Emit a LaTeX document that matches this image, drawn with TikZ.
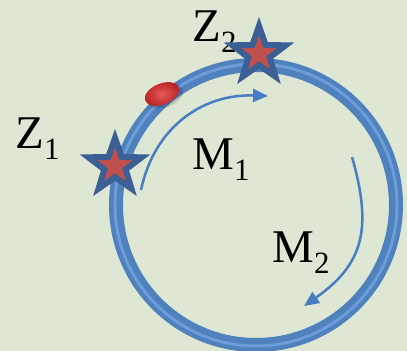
\documentclass[tikz,border=0pt]{standalone}
\usepackage{fontspec}
\setmainfont{Liberation Serif}
\definecolor{bggreen}{RGB}{221,231,211}
\definecolor{ringblue}{RGB}{79,129,189}
\definecolor{ringlight}{RGB}{108,156,218}
\definecolor{starblue}{RGB}{60,96,150}
\definecolor{starred}{RGB}{192,80,77}
\definecolor{arrowblue}{RGB}{72,125,195}
\definecolor{ovalin}{RGB}{232,90,90}
\definecolor{ovalout}{RGB}{185,32,36}
\usetikzlibrary{arrows.meta,positioning,shapes.geometric}
\newcommand{\sublbl}[2]{#1\raisebox{-5.8pt}{\fontsize{17.6}{18}\selectfont #2}}

\begin{document}
\begin{tikzpicture}[x=0.02cm,y=0.02cm]
  \tikzset{
    pointstar/.style={star,star points=5,star point ratio=2.5,minimum size=1.12cm,
      inner sep=0pt,fill=starred,draw=starblue,line width=0.12cm},
    bigtext/.style={anchor=base west,inner sep=0pt,font=\fontsize{26.7}{30}\selectfont},
    turnarrow/.style={arrowblue,line width=0.05cm,-{Triangle[length=0.3cm,width=0.26cm]}}
  }
  % Background
  \fill[bggreen] (0,0) rectangle (407,351);
  \useasboundingbox (0,0) rectangle (407,351);
  % Ring
  \coordinate (ctr) at (256,146);
  \draw[ringblue,line width=0.28cm] (ctr) circle (140);
  \draw[ringlight,line width=0.06cm] (ctr) circle (141);
  % Turn arrows
  \coordinate (m1s) at (141,161);
  \coordinate (m1e) at (268,255);
  \coordinate (m2s) at (352,194);
  \coordinate (m2e) at (304,45);
  \draw[turnarrow] (m1s) to[out=78,in=178,looseness=1.05] (m1e);
  \draw[turnarrow] (m2s) to[out=-74,in=35,looseness=1.2] (m2e);
  % Labels
  \node[bigtext] (z1lbl) at (15,202) {\sublbl{Z}{1}};
  \node[bigtext] (z2lbl) at (192,309) {\sublbl{Z}{2}};
  \node[bigtext] (m1lbl) at (192,181) {\sublbl{M}{1}};
  \node[bigtext] (m2lbl) at (272,88) {\sublbl{M}{2}};
  % Oval
  \coordinate (ovl) at (162,257);
  \fill[black,opacity=0.15,rotate around={22:(ovl)}] ([shift={(2,-3)}]ovl) ellipse [x radius=19,y radius=11];
  \shade[inner color=ovalin,outer color=ovalout,rotate around={22:(ovl)}] (ovl) ellipse [x radius=18,y radius=10.5];
  % Stars
  \node[pointstar] (z1star) at (115,185) {};
  \node[pointstar] (z2star) at (259,297) {};
\end{tikzpicture}
\end{document}
